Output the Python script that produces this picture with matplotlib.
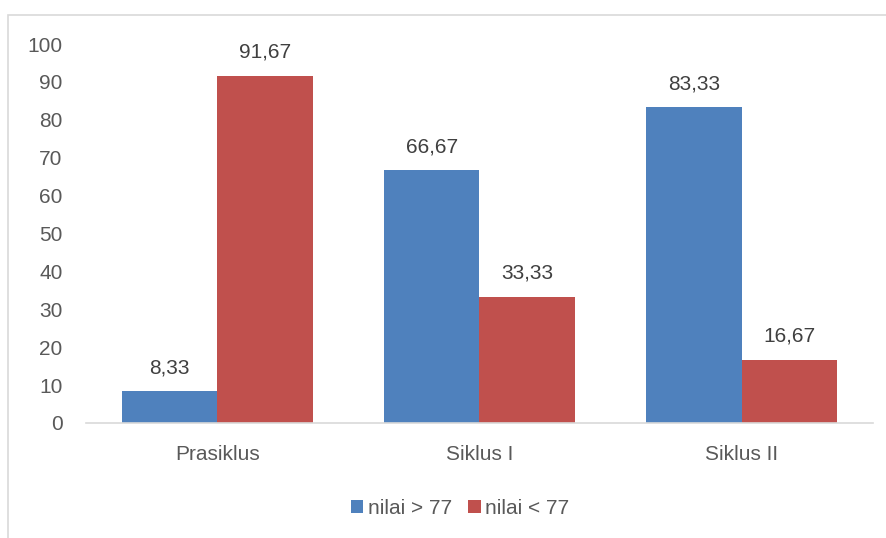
import matplotlib
matplotlib.use('Agg')
import matplotlib.pyplot as plt
import numpy as np
from matplotlib.patches import Rectangle

# chart data
categories = ['Prasiklus', 'Siklus I', 'Siklus II']
above = [8.33, 66.67, 83.33]
below = [91.67, 33.33, 16.67]
series_names = ['nilai > 77', 'nilai < 77']
y_ticks = [0, 10, 20, 30, 40, 50, 60, 70, 80, 90, 100]

BLUE = '#4F81BD'
RED = '#C0504D'
TEXT = '#595959'
LINE = '#D9D9D9'

plt.rcParams['font.family'] = ['Liberation Sans', 'DejaVu Sans']
plt.rcParams['font.size'] = 15

fig = plt.figure(figsize=(8.87, 5.38), dpi=100)
ax = fig.add_axes([86 / 887, 1 - 423 / 538, (873 - 86) / 887, (423 - 44) / 538])

# outer chart border (only left and top visible in the crop)
fig.patches.append(Rectangle((8 / 887, -0.1), 1.2, 1 - 15 / 538 + 0.1,
                             transform=fig.transFigure, fill=False,
                             edgecolor=LINE, linewidth=1.2, zorder=0))

x = np.arange(len(categories))
w = 0.364
b1 = ax.bar(x - w / 2, above, w, color=BLUE, label=series_names[0])
b2 = ax.bar(x + w / 2, below, w, color=RED, label=series_names[1])

for bars, vals in ((b1, above), (b2, below)):
    for rect, v in zip(bars, vals):
        ax.annotate(f'{v:.2f}'.replace('.', ','),
                    (rect.get_x() + rect.get_width() / 2, rect.get_height()),
                    xytext=(0, 10), textcoords='offset points',
                    ha='center', va='bottom', color='#404040', fontsize=15)

ax.set_xlim(-0.5, len(categories) - 0.5)
ax.set_ylim(0, 100)
ax.set_yticks(y_ticks)
ax.set_xticks(x)
ax.set_xticklabels(categories)
ax.tick_params(axis='y', length=0, pad=17, colors=TEXT, labelsize=15)
ax.tick_params(axis='x', length=0, pad=16, colors=TEXT, labelsize=15)
for s in ('top', 'right', 'left'):
    ax.spines[s].set_visible(False)
ax.spines['bottom'].set_color(LINE)
ax.spines['bottom'].set_linewidth(1.2)

fig.legend(loc='center', bbox_to_anchor=(460 / 887, 1 - 508 / 538), ncol=2,
           frameon=False, handlelength=0.6, handleheight=0.6,
           handletextpad=0.2, columnspacing=0.8, fontsize=15,
           labelcolor=TEXT)

fig.savefig('out.png', dpi=100)
